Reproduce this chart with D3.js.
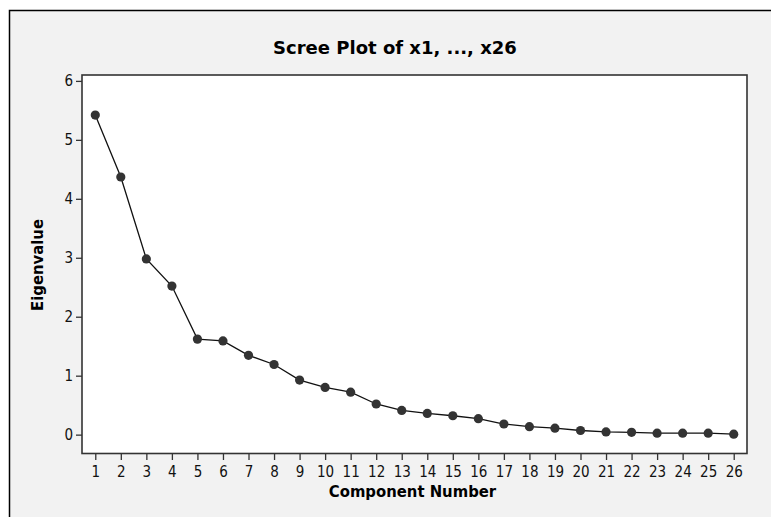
<!DOCTYPE html>
<html>
<head>
<meta charset="utf-8">
<script src="https://cdn.jsdelivr.net/npm/d3@7"></script>
<style>
  html, body { margin: 0; padding: 0; background: #ffffff; }
  svg { display: block; }
</style>
</head>
<body>
<svg id="chart" width="771" height="517"></svg>
<script>
const components = [1,2,3,4,5,6,7,8,9,10,11,12,13,14,15,16,17,18,19,20,21,22,23,24,25,26];
const eigenvalues = [5.42, 4.37, 2.98, 2.52, 1.62, 1.59, 1.345, 1.19, 0.925, 0.80, 0.72, 0.52, 0.41, 0.36, 0.32, 0.27, 0.18, 0.135, 0.11, 0.07, 0.046, 0.04, 0.024, 0.024, 0.024, 0.007];
const yTicks = [0,1,2,3,4,5,6];
const titleText = "Scree Plot of x1, ..., x26";
const xLabel = "Component Number";
const yLabel = "Eigenvalue";

const condensed = "'DejaVu Sans Condensed', 'DejaVu Sans', sans-serif";
const normal = "'DejaVu Sans', sans-serif";

const svg = d3.select("#chart");
const W = 771, H = 517;
const plot = {left: 82, right: 747, top: 75, bottom: 453.5};

svg.append("rect").attr("x", 9.5).attr("y", 10.5).attr("width", W + 20).attr("height", H + 20)
  .attr("fill", "#f2f2f2").attr("stroke", "#000").attr("stroke-width", 1.5);

svg.append("rect").attr("x", plot.left).attr("y", plot.top)
  .attr("width", plot.right - plot.left).attr("height", plot.bottom - plot.top)
  .attr("fill", "#ffffff").attr("stroke", "#333").attr("stroke-width", 1.6);

const x = d3.scaleLinear().domain([0.48, 26.52]).range([plot.left, plot.right]);
const y = d3.scaleLinear().domain([-0.32, 6.1]).range([plot.bottom, plot.top]);

function styleTicks(g) {
  g.select(".domain").remove();
  g.selectAll(".tick line").attr("stroke", "#333").attr("stroke-width", 1.3);
  g.selectAll(".tick text")
    .style("font-family", condensed)
    .style("font-stretch", "condensed")
    .style("font-size", "15px")
    .attr("fill", "#111");
}

const xAxis = svg.append("g").attr("transform", `translate(0,${plot.bottom})`)
  .call(d3.axisBottom(x).tickValues(components).tickFormat(d3.format("d")).tickSize(6.5).tickPadding(6));
styleTicks(xAxis);

const yAxis = svg.append("g").attr("transform", `translate(${plot.left},0)`)
  .call(d3.axisLeft(y).tickValues(yTicks).tickFormat(d3.format("d")).tickSize(6).tickPadding(3));
styleTicks(yAxis);

const pts = components.map((c, i) => [c, eigenvalues[i]]);
svg.append("path").datum(pts)
  .attr("fill", "none").attr("stroke", "#111").attr("stroke-width", 1.3)
  .attr("d", d3.line().x(d => x(d[0])).y(d => y(d[1])));

svg.append("g").selectAll("circle").data(pts).join("circle")
  .attr("cx", d => x(d[0])).attr("cy", d => y(d[1])).attr("r", 4.6)
  .attr("fill", "#333");

svg.append("text").attr("x", 395).attr("y", 54.3)
  .attr("text-anchor", "middle")
  .style("font-family", normal).style("font-weight", "bold").style("font-size", "18px")
  .attr("fill", "#000").text(titleText);
svg.append("text").attr("x", 412.5).attr("y", 497.3)
  .attr("text-anchor", "middle")
  .style("font-family", condensed).style("font-stretch", "condensed").style("font-weight", "bold").style("font-size", "16.5px")
  .attr("fill", "#000").text(xLabel);
svg.append("text")
  .attr("transform", "translate(43,265) rotate(-90)")
  .attr("text-anchor", "middle")
  .style("font-family", condensed).style("font-stretch", "condensed").style("font-weight", "bold").style("font-size", "16.5px")
  .attr("fill", "#000").text(yLabel);
</script>
</body>
</html>
